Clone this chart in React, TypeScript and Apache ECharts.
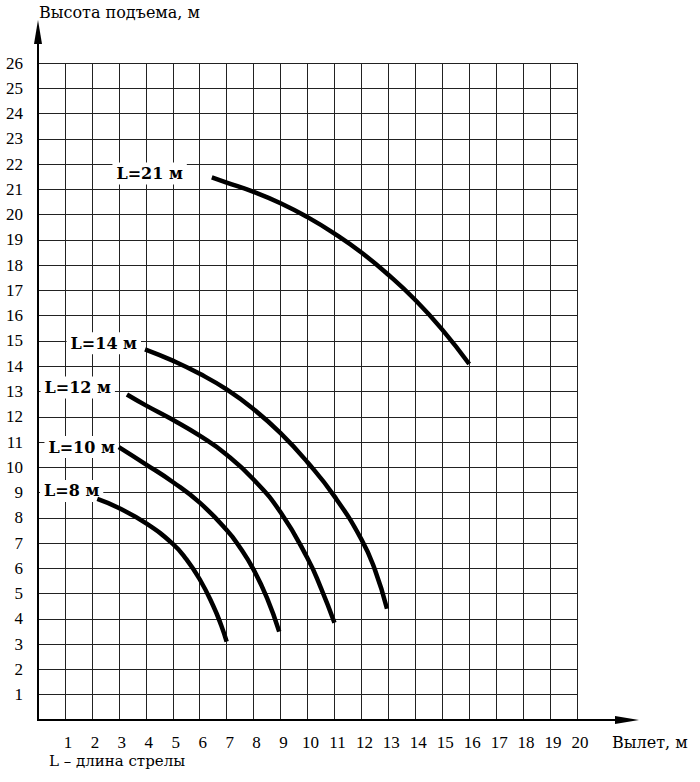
import React, { useEffect, useRef } from 'react';
import * as echarts from 'echarts';

// boom lengths and their load-height curves: [reach, height]
const boomLabels = ['L=8 м', 'L=10 м', 'L=12 м', 'L=14 м', 'L=21 м'];
const boom8 = [[2.2, 8.75], [3, 8.39], [4, 7.79], [5, 6.97], [5.5, 6.37], [6, 5.57], [6.5, 4.52], [6.8, 3.74], [7.0, 3.1]];
const boom10 = [[3, 10.8], [4, 10.12], [5, 9.42], [6, 8.6], [7, 7.52], [7.5, 6.82], [8, 5.95], [8.5, 4.82], [8.95, 3.5]];
const boom12 = [[3.3, 12.88], [4, 12.45], [5, 11.88], [6, 11.25], [7, 10.5], [8, 9.52], [9, 8.22], [10, 6.4], [10.5, 5.22], [11, 3.85]];
const boom14 = [[3.97, 14.67], [5, 14.22], [6, 13.7], [7, 13.08], [8, 12.3], [9, 11.35], [10, 10.2], [11, 8.85], [12, 7.15], [12.5, 5.95], [12.95, 4.4]];
const boom21 = [[6.45, 21.47], [7, 21.27], [8, 20.9], [9, 20.45], [10, 19.9], [11, 19.25], [12, 18.5], [13, 17.62], [14, 16.62], [15, 15.45], [16, 14.09]];
const curves = [boom8, boom10, boom12, boom14, boom21];

const reachMax = 20;
const heightMax = 26;

// where each curve label sits relative to the curve start: [gap, dy]
const labelNudge = [[-6, -8], [0, 0], [12, -7], [4, -6], [25, -4]];

const SERIF = '"Liberation Serif", "DejaVu Serif", serif';
const WIDE_SERIF = '"DejaVu Serif", serif';

const App: React.FC = () => {
  const chartRef = useRef<HTMLDivElement>(null);

  useEffect(() => {
    document.body.style.margin = '0';
    const chart = echarts.init(chartRef.current as HTMLDivElement, undefined, { renderer: 'svg' });

    const series = curves.map((pts, i) => ({
      name: boomLabels[i],
      type: 'line',
      data: pts,
      smooth: 0.5,
      showSymbol: false,
      lineStyle: { color: '#000', width: 4.5, cap: 'butt' },
      z: 5,
      markPoint: {
        symbol: 'circle',
        symbolSize: 0,
        silent: true,
        data: [{ coord: pts[0] }],
        label: {
          show: true,
          position: 'left',
          distance: labelNudge[i][0],
          offset: [0, labelNudge[i][1]],
          formatter: boomLabels[i],
          color: '#000',
          fontFamily: WIDE_SERIF,
          fontWeight: 'bold',
          fontSize: 16,
          backgroundColor: '#fff',
          padding: [3, 4]
        }
      }
    }));

    const tickLabel = {
      margin: 15,
      color: '#000',
      fontFamily: SERIF,
      fontSize: 17,
      formatter: (v: number) => (v === 0 ? '' : String(v))
    };

    const option = {
      animation: false,
      backgroundColor: '#fff',
      title: {
        text: 'Высота подъема, м',
        left: 39,
        top: 4,
        padding: 0,
        textStyle: { fontFamily: WIDE_SERIF, fontWeight: 'normal', fontSize: 16, color: '#000' }
      },
      grid: { left: 38, right: 123, top: 63, bottom: 62 },
      xAxis: {
        type: 'value',
        min: 0,
        max: reachMax,
        interval: 1,
        axisLine: { show: false },
        axisTick: { show: false },
        axisLabel: { ...tickLabel, margin: 14, padding: [0, 0, 0, 6] },
        splitLine: { show: true, lineStyle: { color: '#222', width: 1 } }
      },
      yAxis: {
        type: 'value',
        min: 0,
        max: heightMax,
        interval: 1,
        axisLine: { show: false },
        axisTick: { show: false },
        axisLabel: tickLabel,
        splitLine: { show: true, lineStyle: { color: '#222', width: 1 } }
      },
      graphic: [
        { type: 'line', shape: { x1: 38, y1: 720, x2: 38, y2: 40 }, style: { stroke: '#000', lineWidth: 2 }, z: 10 },
        { type: 'polygon', shape: { points: [[38, 20], [34, 44], [42, 44]] }, style: { fill: '#000' }, z: 10 },
        { type: 'line', shape: { x1: 37, y1: 720, x2: 620, y2: 720 }, style: { stroke: '#000', lineWidth: 2 }, z: 10 },
        { type: 'polygon', shape: { points: [[639, 720], [615, 716], [615, 724]] }, style: { fill: '#000' }, z: 10 },
        {
          type: 'text',
          x: 612,
          y: 742,
          style: { text: 'Вылет, м', fill: '#000', font: `16px ${WIDE_SERIF}`, verticalAlign: 'middle' }
        },
        {
          type: 'text',
          x: 49,
          y: 761,
          style: { text: 'L – длина стрелы', fill: '#000', font: `15px ${WIDE_SERIF}`, verticalAlign: 'middle' }
        }
      ],
      series
    };

    chart.setOption(option);

    return () => {
      chart.dispose();
    };
  }, []);

  return <div ref={chartRef} style={{ width: '700px', height: '782px' }}></div>;
};

export default App;
